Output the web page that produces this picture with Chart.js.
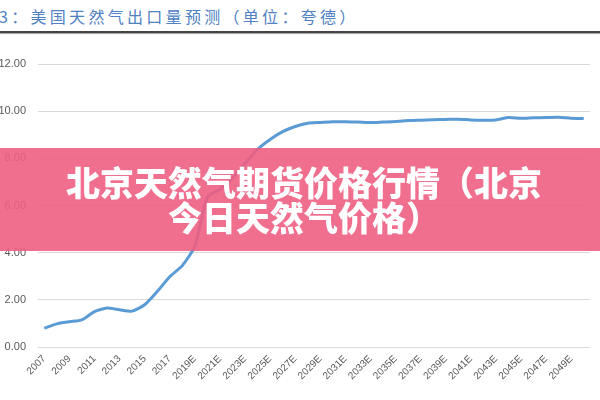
<!DOCTYPE html>
<html>
<head>
<meta charset="utf-8">
<script src="https://cdn.jsdelivr.net/npm/chart.js@4/dist/chart.umd.min.js"></script>
<style>
  html, body { margin: 0; padding: 0; background: #fff; overflow: hidden; width: 600px; height: 400px; }
  #title { position: absolute; left: -1px; top: 5px; font: 400 16px "Noto Sans CJK SC", sans-serif; color: #4f81c4; letter-spacing: 3.3px; white-space: nowrap; line-height: 22px; }
  #rule { position: absolute; left: 0; top: 31px; width: 600px; height: 2px; background: #454545; box-shadow: 0 1px 1px #a0a0a0; }
  #wrap { position: absolute; left: -12px; top: 0; width: 612px; height: 400px; }
  #banner { position: absolute; left: 0; top: 148px; width: 600px; height: 103px; background: rgba(238,94,130,0.9); }
  #banner div { position: absolute; left: 4px; top: 16px; width: 600px; text-align: center; color: #fff; font: 900 34px "Noto Sans CJK SC", sans-serif; line-height: 35px; }
</style>
</head>
<body>
<div id="title">3：美国天然气出口量预测（单位：夸德）</div>
<div id="rule"></div>
<div id="wrap"><canvas id="c" width="612" height="400"></canvas></div>
<div id="banner"><div>北京天然气期货价格行情（北京<br>今日天然气价格）</div></div>
<script>
const categories = ["2007","2008","2009","2010","2011","2012","2013","2014","2015","2016","2017","2018",
  "2019E","2020E","2021E","2022E","2023E","2024E","2025E","2026E","2027E","2028E","2029E","2030E",
  "2031E","2032E","2033E","2034E","2035E","2036E","2037E","2038E","2039E","2040E","2041E","2042E",
  "2043E","2044E","2045E","2046E","2047E","2048E","2049E","2050E"];
const exportsQuads = [0.80,0.98,1.07,1.15,1.50,1.65,1.58,1.52,1.79,2.35,2.98,3.45,
  4.27,6.35,6.68,7.16,7.79,8.38,8.80,9.13,9.35,9.49,9.52,9.55,
  9.55,9.54,9.52,9.54,9.56,9.60,9.62,9.64,9.65,9.66,9.63,9.62,
  9.63,9.73,9.70,9.72,9.73,9.74,9.70,9.69];
const yTicks = [0,2,4,6,8,10,12];

new Chart(document.getElementById('c'), {
  type: 'line',
  data: {
    labels: categories,
    datasets: [{
      data: exportsQuads,
      borderColor: '#5b9bd5',
      borderWidth: 3,
      pointRadius: 0,
      tension: 0.2,
      fill: false
    }]
  },
  options: {
    responsive: false,
    animation: false,
    layout: { padding: { top: 64, right: 10, left: 0, bottom: 0 } },
    plugins: { legend: { display: false }, tooltip: { enabled: false }, title: { display: false } },
    scales: {
      x: {
        type: 'category',
        offset: true,
        grid: { display: false, drawTicks: false },
        border: { display: false },
        ticks: {
          autoSkip: false,
          maxRotation: 45,
          minRotation: 45,
          padding: 6,
          color: '#595959',
          font: { family: 'Liberation Sans', size: 10 },
          callback: function(v, i) { return i % 2 === 0 ? categories[i] : ''; }
        },
        afterFit: function(s) { s.height = 53; }
      },
      y: {
        min: 0,
        max: 12,
        afterBuildTicks: function(s) { s.ticks = yTicks.map(v => ({ value: v })); },
        grid: { color: '#d9d9d9', lineWidth: 1, drawTicks: false },
        border: { display: false },
        ticks: {
          padding: 12,
          color: '#595959',
          font: { family: 'Liberation Sans', size: 11 },
          callback: function(v) { return Number(v).toFixed(2); }
        },
        afterFit: function(s) { s.width = 50; }
      }
    }
  }
});
</script>
</body>
</html>
